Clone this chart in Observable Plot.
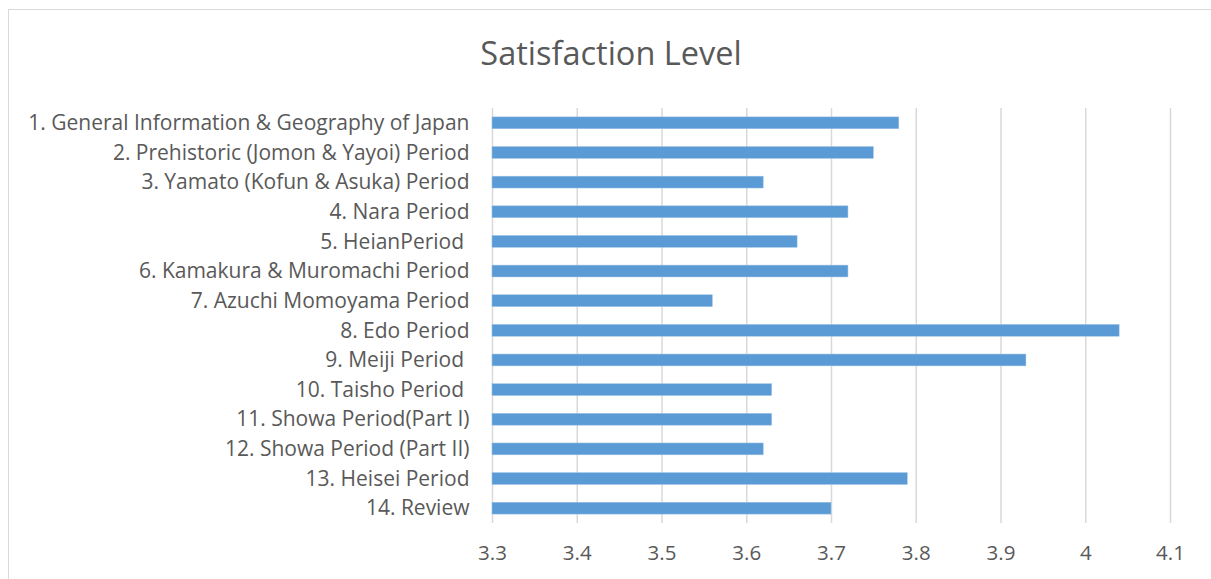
<!DOCTYPE html>
<html>
<head>
<meta charset="utf-8">
<script src="https://cdn.jsdelivr.net/npm/d3@7"></script>
<script src="https://cdn.jsdelivr.net/npm/@observablehq/plot@0.6"></script>
<style>
  html, body { margin: 0; padding: 0; background: #fff; }
  #wrap { position: relative; width: 1211px; height: 579px; overflow: hidden; font-family: "Open Sans", sans-serif; }
  #frame { position: absolute; left: 8px; top: 9px; width: 1300px; height: 700px; border-left: 1.5px solid #d9d9d9; border-top: 1.5px solid #d9d9d9; box-sizing: border-box; }
  #title { position: absolute; left: 0; width: 1222px; top: 33px; text-align: center; font-size: 32.5px; color: #595959; line-height: 40px; }
  #chart { position: absolute; left: 0; top: 0; }
</style>
</head>
<body>
<div id="wrap">
  <div id="frame"></div>
  <div id="title">Satisfaction Level</div>
  <div id="chart"></div>
</div>
<script>
const categories = [
  "1. General Information & Geography of Japan",
  "2. Prehistoric (Jomon & Yayoi) Period",
  "3. Yamato (Kofun & Asuka) Period",
  "4. Nara Period",
  "5. HeianPeriod ",
  "6. Kamakura & Muromachi Period",
  "7. Azuchi Momoyama Period",
  "8. Edo Period",
  "9. Meiji Period ",
  "10. Taisho Period ",
  "11. Showa Period(Part I)",
  "12. Showa Period (Part II)",
  "13. Heisei Period",
  "14. Review"
];
const values = [3.78, 3.75, 3.62, 3.72, 3.66, 3.72, 3.56, 4.04, 3.93, 3.63, 3.63, 3.62, 3.79, 3.70];
const xTicks = [3.3, 3.4, 3.5, 3.6, 3.7, 3.8, 3.9, 4.0, 4.1];

const data = categories.map((c, i) => ({category: c, value: values[i]}));

const chart = Plot.plot({
  width: 1211,
  height: 579,
  marginTop: 108,
  marginBottom: 56,
  marginLeft: 492,
  marginRight: 41,
  style: {fontFamily: "'Open Sans', sans-serif", fontSize: "21px", color: "#595959", background: "transparent"},
  x: {domain: [3.3, 4.1], ticks: xTicks},
  y: {domain: categories, paddingInner: 0.6, paddingOuter: 0.3, round: false},
  marks: [
    Plot.gridX(xTicks, {stroke: "#d9d9d9", strokeOpacity: 1, strokeWidth: 1.5}),
    Plot.barX(data, {y: "category", x1: 3.3, x2: "value", fill: "#5b9bd5", stroke: "#9dc3e6", strokeWidth: 0.5}),
    Plot.axisY({tickSize: 0, tickPadding: 23, label: null, fill: "#595959", textAnchor: "end", fontSize: 21}),
    Plot.axisX(xTicks, {tickSize: 0, tickPadding: 22, label: null, fill: "#595959", fontSize: 20.5, tickFormat: d => String(+d.toFixed(1))})
  ]
});
document.getElementById("chart").appendChild(chart);
</script>
</body>
</html>
